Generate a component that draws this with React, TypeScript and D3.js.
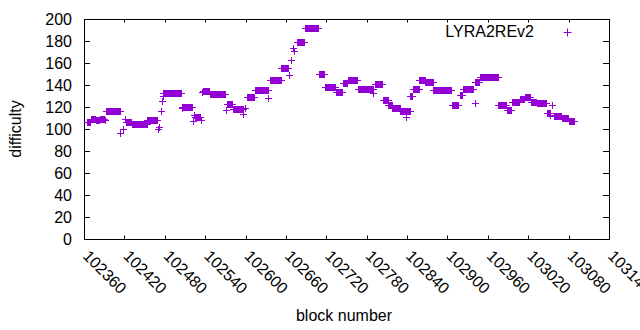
import React from 'react';
import * as d3 from 'd3';

// difficulty holds steady between retargets: runs of blocks [start..end] at one value
const runStart = [102364, 102370, 102378, 102384, 102392, 102422, 102431, 102454, 102478, 102506,
  102525, 102537, 102547, 102572, 102581, 102602, 102614, 102636, 102653, 102676,
  102688, 102709, 102718, 102734, 102745, 102752, 102767, 102792, 102804, 102812,
  102818, 102830, 102844, 102849, 102858, 102867, 102880, 102907, 102919, 102923,
  102941, 102948, 102975, 102988, 102996, 103008, 103015, 103024, 103033, 103048,
  103058, 103070, 103081];
const runEnd = [102369, 102377, 102383, 102390, 102413, 102430, 102453, 102468, 102504, 102521,
  102533, 102546, 102570, 102580, 102596, 102613, 102633, 102652, 102663, 102687,
  102708, 102717, 102733, 102744, 102751, 102766, 102789, 102803, 102811, 102817,
  102829, 102844, 102848, 102857, 102866, 102879, 102906, 102916, 102922, 102938,
  102947, 102975, 102987, 102995, 103007, 103014, 103023, 103032, 103047, 103052,
  103069, 103079, 103088];
const runDiff = [106, 109, 108, 109.5, 116, 106, 104.5, 108, 133, 120,
  111, 134.5, 132, 123, 118, 129, 135.5, 145, 155, 179,
  192, 150, 138, 134, 142, 145, 136, 140.5, 126, 122,
  119, 116, 130, 136, 144.8, 143, 135, 122, 131, 136,
  143, 147.7, 122, 117, 124.5, 127, 128.7, 125, 124, 115,
  112, 110, 107.5];

// odd single blocks
const spotBlock = [102391, 102414, 102418, 102421, 102470, 102471, 102474, 102476, 102477, 102505,
  102522, 102524, 102534, 102535, 102571, 102596, 102599, 102634, 102664, 102667,
  102671, 102672, 102734, 102790, 102839, 102879, 102941, 103053, 103055];
const spotDiff = [108, 96, 100, 109, 100, 102, 116.6, 125.7, 130, 119,
  107, 112.7, 108, 134, 117, 113.6, 119, 128.5, 149, 162.7,
  173.6, 171, 133.6, 133, 111, 135.5, 123.6, 113, 122];

const xTickLabels = [102360, 102420, 102480, 102540, 102600, 102660, 102720, 102780, 102840,
  102900, 102960, 103020, 103080, 103140];
const yTickLabels = [0, 20, 40, 60, 80, 100, 120, 140, 160, 180, 200];
const seriesName = 'LYRA2REv2';

export default function App() {
  const W = 640, H = 330;
  const L = 84, R = 609, T = 19, B = 239;
  const x = d3.scaleLinear().domain([102360, 103140]).range([L, R]);
  const y = d3.scaleLinear().domain([0, 200]).range([B, T]);
  const color = '#9400d3';
  const font = "'Liberation Sans', Arial, sans-serif";

  const pts: [number, number][] = [];
  runStart.forEach((s, i) => {
    for (let b = s; b <= runEnd[i]; b++) pts.push([b, runDiff[i]]);
  });
  spotBlock.forEach((b, i) => pts.push([b, spotDiff[i]]));

  const px = (v: number) => Math.round(v) + 0.5;
  const plus = (cx: number, cy: number, r: number) =>
    `M${cx - r},${cy}h${2 * r}M${cx},${cy - r}v${2 * r}`;
  const marks = pts.map(([b, d]) => plus(px(x(b)), px(y(d)), 3.5)).join('');

  return (
    <svg width={W} height={H} style={{position: 'absolute', left: 0, top: 0, background: '#fff'}}
      fontFamily={font} fontSize={16}>
      <rect x={0} y={0} width={W} height={H} fill="#fff" />

      {/* tics, mirrored on all four sides */}
      {yTickLabels.map(v => (
        <g key={'y' + v}>
          <line x1={L} x2={L + 6} y1={px(y(v))} y2={px(y(v))} stroke="#000" />
          <line x1={R - 6} x2={R} y1={px(y(v))} y2={px(y(v))} stroke="#000" />
          <text x={72} y={y(v) + 5.7} textAnchor="end" fill="#000">{v}</text>
        </g>
      ))}
      {xTickLabels.map(v => (
        <g key={'x' + v}>
          <line x1={px(x(v))} x2={px(x(v))} y1={B} y2={B - 3.5} stroke="#000" />
          <line x1={px(x(v))} x2={px(x(v))} y1={T} y2={T + 3.5} stroke="#000" />
          <text transform={`translate(${x(v) - 2},${257}) rotate(45)`} fill="#000">{v}</text>
        </g>
      ))}

      <rect x={L + 0.5} y={T + 0.5} width={R - L} height={B - T} fill="none" stroke="#000" />

      <path d={marks} stroke={color} strokeWidth={1} fill="none" />

      {/* key */}
      <text x={534} y={37.3} textAnchor="end" fill="#000">{seriesName}</text>
      <path d={plus(567.5, 32.5, 4)} stroke={color} strokeWidth={1} fill="none" />

      <text transform={`translate(21,129) rotate(-90)`} textAnchor="middle" fill="#000">difficulty</text>
      <text x={344} y={321} textAnchor="middle" fill="#000">block number</text>
    </svg>
  );
}
